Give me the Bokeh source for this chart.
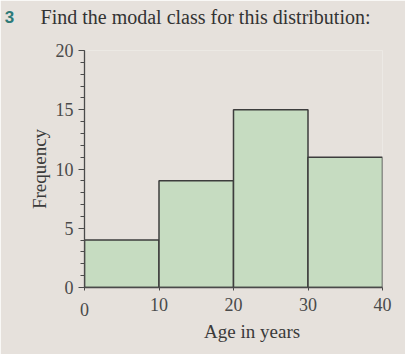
from bokeh.plotting import figure
from bokeh.models import Label, Range1d, SingleIntervalTicker, Arrow
from bokeh.embed import file_html
from bokeh.resources import INLINE

# Data
class_lower = [0, 10, 20, 30]
class_upper = [10, 20, 30, 40]
frequency = [4, 9, 15, 11]

BG = "#e6e1dc"
FG = "#4a4a4a"
SERIF = "Liberation Serif"

p = figure(width=405, height=354, output_backend="svg", toolbar_location=None,
           x_range=Range1d(0, 40), y_range=Range1d(0, 20),
           min_border_left=84, min_border_right=23, min_border_top=50, min_border_bottom=67)
p.background_fill_color = BG
p.border_fill_color = BG
p.outline_line_color = None
p.grid.visible = False

p.quad(left=class_lower, right=class_upper, bottom=0, top=frequency,
       fill_color="#c6dcc1", line_color="#3d3d3d", line_width=1.5)

# y axis
ya = p.yaxis[0]
ya.ticker = SingleIntervalTicker(interval=5, num_minor_ticks=5)
ya.axis_line_color = FG
ya.major_tick_line_color = FG
ya.minor_tick_line_color = FG
ya.major_tick_out = 6
ya.major_tick_in = 0
ya.minor_tick_out = 4
ya.minor_tick_in = 0
ya.major_label_text_font = SERIF
ya.major_label_text_font_size = "18px"
ya.major_label_text_color = FG
ya.major_label_standoff = 5
ya.axis_label = "Frequency"
ya.axis_label_text_font = SERIF
ya.axis_label_text_font_size = "19px"
ya.axis_label_text_font_style = "normal"
ya.axis_label_text_color = "#3a3a3a"
ya.axis_label_standoff = 3
ya.axis_line_width = 1.3

# x axis
xa = p.xaxis[0]
xa.ticker = SingleIntervalTicker(interval=10, num_minor_ticks=0)
xa.axis_line_color = FG
xa.major_tick_line_color = FG
xa.major_tick_out = 3
xa.major_tick_in = 0
xa.minor_tick_out = 0
xa.major_label_text_font = SERIF
xa.major_label_text_font_size = "18px"
xa.major_label_text_color = FG
xa.major_label_standoff = 7
xa.major_label_overrides = {0: ""}
xa.axis_line_width = 1.3

# extended axis crossing at origin (side panel annotations are not clipped)
p.add_layout(Arrow(end=None, x_start=0, y_start=0, x_end=-1.6, y_end=0,
                   line_color=FG, line_width=1.3), "left")
p.add_layout(Arrow(end=None, x_start=0, y_start=0, x_end=0, y_end=-1.05,
                   line_color=FG, line_width=1.3), "below")

p.add_layout(Label(x=0, y=-1.85, text="0", text_align="center",
                   text_baseline="alphabetic", text_font=SERIF,
                   text_font_size="18px", text_color=FG), "left")

p.add_layout(Label(x=22.5, y=-3.7, text="Age in years", text_align="center",
                   text_baseline="alphabetic", text_font=SERIF,
                   text_font_size="19px", text_color="#3a3a3a"), "below")

# heading
p.add_layout(Label(x=-10.7, y=22.8, text="3", text_align="left",
                   text_baseline="alphabetic", text_font="Liberation Sans",
                   text_font_style="bold", text_font_size="17px", text_color="#2d7a78"), "above")
p.add_layout(Label(x=-5.9, y=22.8, text="Find the modal class for this distribution:",
                   text_align="left", text_baseline="alphabetic", text_font=SERIF,
                   text_font_size="20px", text_color="#333333"), "above")

open("out.html", "w").write(file_html(p, INLINE))
